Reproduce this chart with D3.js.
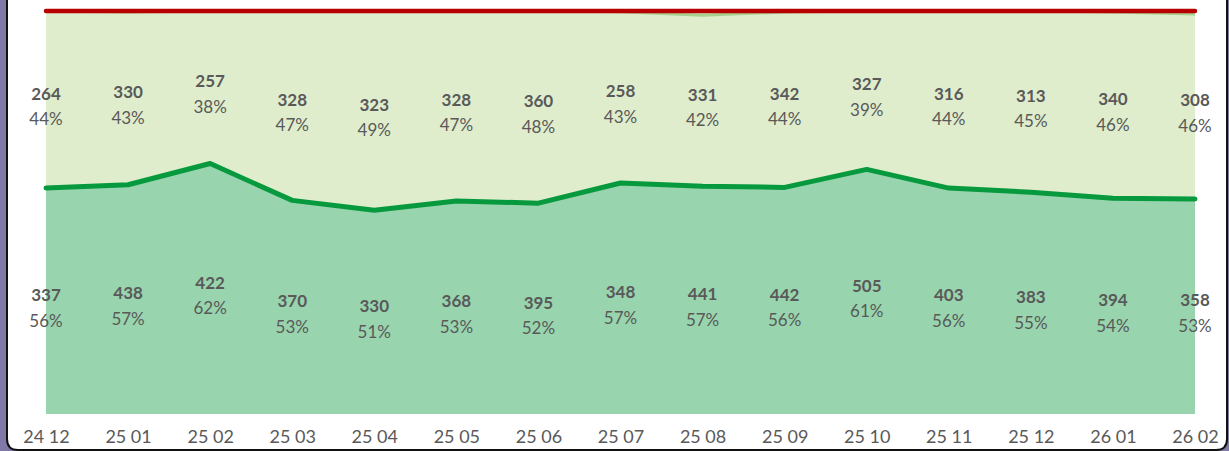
<!DOCTYPE html>
<html>
<head>
<meta charset="utf-8">
<script src="https://cdn.jsdelivr.net/npm/d3@7"></script>
<style>
  html, body { margin: 0; padding: 0; background: #8079a7; overflow: hidden; }
  svg { display: block; }
</style>
</head>
<body>
<svg id="chart" width="1229" height="451"></svg>
<script>
// ---- data ----
const categories = ["24 12","25 01","25 02","25 03","25 04","25 05","25 06","25 07","25 08","25 09","25 10","25 11","25 12","26 01","26 02"];
const seriesLower = [337,438,422,370,330,368,395,348,441,442,505,403,383,394,358];
const seriesUpper = [264,330,257,328,323,328,360,258,331,342,327,316,313,340,308];
const seriesOther = [0,2,0,0,0,0,0,1,8,2,0,0,0,2,5];
const pctLower = ["56%","57%","62%","53%","51%","53%","52%","57%","57%","56%","61%","56%","55%","54%","53%"];
const pctUpper = ["44%","43%","38%","47%","49%","47%","48%","43%","42%","44%","39%","44%","45%","46%","46%"];

const table = categories.map((c, i) => ({ cat: c, lower: seriesLower[i], upper: seriesUpper[i], other: seriesOther[i] }));

const svg = d3.select("#chart");
const W = 1229, H = 451;

// frame
const fx0 = 7, fx1 = 1227, fy1 = 450, r = 11;
svg.append("path")
  .attr("d", `M${fx0},-10 L${fx0},${fy1 - r} Q${fx0},${fy1} ${fx0 + r},${fy1} L${fx1 - r},${fy1} Q${fx1},${fy1} ${fx1},${fy1 - r} L${fx1},-10 Z`)
  .attr("fill", "#ffffff")
  .attr("stroke", "#111111")
  .attr("stroke-width", 2);

const x = d3.scalePoint().domain(categories).range([46, 1195]);
const y = d3.scaleLinear().domain([0, 1]).range([414, 11]);

const stack = d3.stack().keys(["lower", "upper", "other"]).offset(d3.stackOffsetExpand);
const layers = stack(table);

const fills = { lower: "#98d4ae", upper: "#dfedcc", other: "#dfedcc" };

const area = d3.area()
  .x(d => x(d.data.cat))
  .y0(d => y(d[0]))
  .y1(d => y(d[1]));

svg.append("g").selectAll("path").data(layers).join("path")
  .attr("d", area)
  .attr("fill", d => fills[d.key]);

const line = d3.line().x(d => x(d.data.cat)).y(d => y(d[1]));

// upper series edge (light green)
svg.append("path").datum(layers[1]).attr("d", line)
  .attr("fill", "none").attr("stroke", "#a9d18e").attr("stroke-width", 3);
// other series edge (red)
svg.append("path").datum(layers[2]).attr("d", line)
  .attr("fill", "none").attr("stroke", "#b80000").attr("stroke-width", 4.5)
  .attr("stroke-linecap", "round").attr("stroke-linejoin", "round");
// lower series edge (dark green)
svg.append("path").datum(layers[0]).attr("d", line)
  .attr("fill", "none").attr("stroke", "#07993d").attr("stroke-width", 5)
  .attr("stroke-linecap", "round").attr("stroke-linejoin", "round");

// labels
const labelFont = "Lato, 'Open Sans', sans-serif";
function addLabels(layer, values, pcts) {
  const g = svg.append("g").attr("font-family", labelFont).attr("fill", "#595959").attr("text-anchor", "middle");
  layer.forEach((d, i) => {
    const mid = (y(d[0]) + y(d[1])) / 2;
    g.append("text").attr("x", x(d.data.cat)).attr("y", mid)
      .attr("font-size", 17).attr("font-weight", "bold").text(values[i]);
    g.append("text").attr("x", x(d.data.cat)).attr("y", mid + 25.5)
      .attr("font-size", 17).text(pcts[i]);
  });
}
addLabels(layers[0], seriesLower, pctLower);
addLabels(layers[1], seriesUpper, pctUpper);

// x axis
const ax = svg.append("g").attr("transform", "translate(0,414)")
  .call(d3.axisBottom(x).tickSize(0).tickPadding(16));
ax.select(".domain").remove();
ax.selectAll("text").attr("font-family", labelFont).attr("font-size", 18).attr("fill", "#595959");
</script>
</body>
</html>
